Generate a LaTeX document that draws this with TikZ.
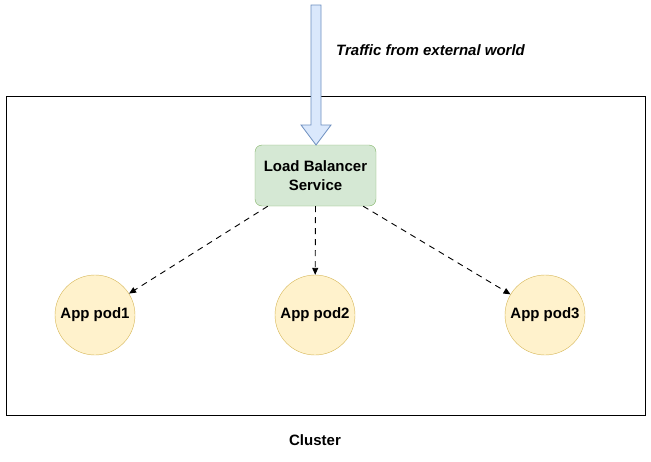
\documentclass[tikz,border=0pt]{standalone}
\usepackage{fontspec}
\setmainfont{Liberation Sans}
\usetikzlibrary{arrows.meta,shapes.arrows}
\definecolor{blueF}{HTML}{DAE8FC}
\definecolor{blueS}{HTML}{6C8EBF}
\definecolor{greenF}{HTML}{D5E8D4}
\definecolor{greenS}{HTML}{82B366}
\definecolor{yelF}{HTML}{FFF2CC}
\definecolor{yelS}{HTML}{D6B656}
\tikzset{
  lbox/.style={draw=greenS, fill=greenF, rounded corners=7pt, minimum width=121pt, minimum height=61pt, inner sep=0pt, align=center, font=\fontsize{15}{18.5}\selectfont\bfseries},
  pod/.style={circle, draw=yelS, fill=yelF, minimum size=80pt, inner sep=0pt, font=\fontsize{15}{18}\selectfont\bfseries},
  dasharrow/.style={draw=black, line width=0.9pt, dashed, dash pattern=on 6pt off 5pt, -{Triangle[length=7pt,width=6pt]}},
  lbl/.style={font=\fontsize{15}{18}\selectfont\bfseries, inner sep=0pt}
}
\begin{document}
\begin{tikzpicture}[x=1pt,y=-1pt]
\useasboundingbox (0,0) rectangle (651,461);
\node[draw=black, line width=1pt, minimum width=639pt, minimum height=319pt, inner sep=0pt] (cluster) at (325.5,255.5) {};
\node[lbox] (lb) at (315.5,175.5) {Load Balancer\\Service};
\node[pod] (p1) at (95,315) {App pod1};
\node[pod] (p2) at (315,315) {App pod2};
\node[pod] (p3) at (545,315) {App pod3};
\draw[draw=blueS, fill=blueF, line width=0.8pt]
  (311,5) -- (321,5) -- (321,125) -- (331,125) -- (316,145) -- (301,125) -- (311,125) -- cycle;
\node[lbl, font=\fontsize{15}{18}\selectfont\bfseries\itshape, anchor=west] (traffic) at (336,50) {Traffic from external world};
\node[lbl] (clabel) at (315,440) {Cluster};
\draw[dasharrow] (lb.south west) ++(13,0) coordinate (s1) -- (p1);
\draw[dasharrow] (lb.south) -- (p2);
\draw[dasharrow] (lb.south east) ++(-13,0) coordinate (s3) -- (p3);
\end{tikzpicture}
\end{document}
